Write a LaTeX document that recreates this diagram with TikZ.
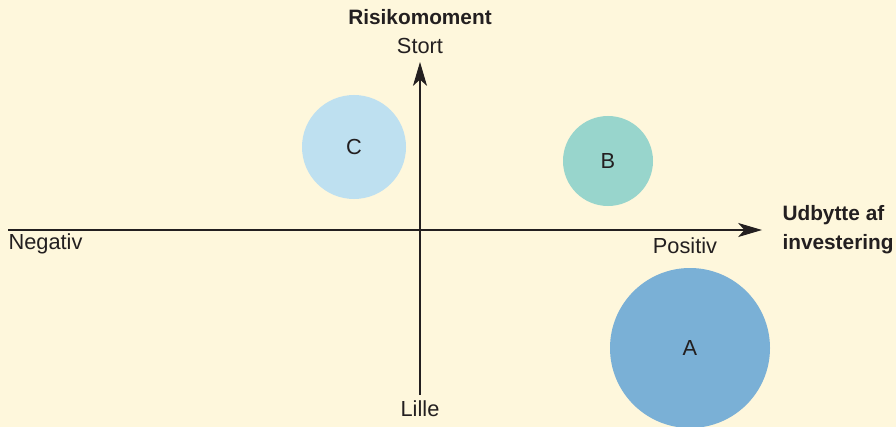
\documentclass[tikz,border=0pt]{standalone}
\usepackage{fontspec}
\setmainfont{Liberation Sans}
\usetikzlibrary{arrows.meta}
\usetikzlibrary{positioning}
\definecolor{cream}{HTML}{FEF7DC}
\definecolor{ccol}{HTML}{BEE0F0}
\definecolor{bcol}{HTML}{98D5CC}
\definecolor{acol}{HTML}{7AB0D6}
\definecolor{ink}{HTML}{231F20}
\tikzset{risk node/.style={circle,draw=none,inner sep=0pt,text=ink,font=\fontsize{15.5}{18}\selectfont},
         lbl/.style={text=ink,inner sep=0pt,font=\fontsize{15.5}{18}\selectfont},
         head/.style={text=ink,inner sep=0pt,font=\fontsize{14.8}{20.5}\selectfont\bfseries,align=left},
            }

\begin{document}
\begin{tikzpicture}[x=0.025cm,y=-0.025cm,line width=0.75pt,draw=ink]
    \fill[cream] (0,0) rectangle (896,427);
    \useasboundingbox (0,0) rectangle (896,427);

    % circles
    \node[risk node,fill=ccol,minimum size=104*0.025cm] (C) at (354,147) {C};
    \node[risk node,fill=bcol,minimum size=90*0.025cm] (B) at (608,161) {B};
    \node[risk node,fill=acol,minimum size=160*0.025cm] (A) at (690,348) {A};

    % axes
    \coordinate (xl) at (8,230);
    \coordinate (xr) at (762,230);
    \coordinate (yb) at (420,395);
    \coordinate (yt) at (420,62);
    \draw[-{Stealth[length=17pt,width=10pt,inset=4.5pt]}] (xl) -- (xr);
    \draw[-{Stealth[length=17pt,width=10pt,inset=4.5pt]}] (yb) -- (yt);

    % labels
    \node[head] (risk) at (420,17) {Risikomoment};
    \node[lbl] (stort) at (420,46) {Stort};
    \node[lbl] (lille) at (420,409) {Lille};
    \node[lbl,anchor=west] (neg) at (8,244) {Negativ};
    \node[lbl] (pos) at (685,246) {Positiv};
    \node[head,anchor=west] (udb) at (782,230) {Udbytte af\\investering};
\end{tikzpicture}
\end{document}
